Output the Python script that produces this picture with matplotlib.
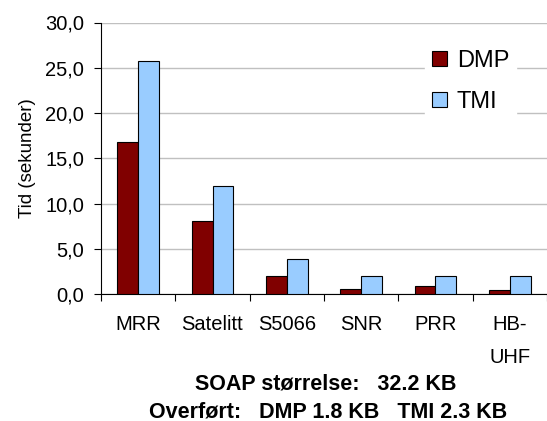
import matplotlib
matplotlib.use('Agg')
import matplotlib.pyplot as plt
import numpy as np

plt.rcParams['font.family'] = ['Liberation Sans', 'DejaVu Sans']

categories = ['MRR', 'Satelitt', 'S5066', 'SNR', 'PRR', 'HB-\nUHF']
dmp = [16.8, 8.1, 2.0, 0.6, 0.85, 0.4]
tmi = [25.8, 11.9, 3.9, 2.0, 2.0, 2.0]
yticks = [0, 5, 10, 15, 20, 25, 30]

fig = plt.figure(figsize=(5.47, 4.21), dpi=100)
ax = fig.add_axes([101/547, 1 - 294/421, 1 - 101/547, (294 - 22.5)/421])

x = np.arange(len(categories))
w = 0.28
ax.bar(x - w/2, dmp, w, color='#800000', edgecolor='black', linewidth=0.8, label='DMP', zorder=3)
ax.bar(x + w/2, tmi, w, color='#99ccff', edgecolor='black', linewidth=0.8, label='TMI', zorder=3)

ax.set_xlim(-0.5, len(categories) - 0.5)
ax.set_ylim(0, 30)
ax.set_yticks(yticks)
ax.set_yticklabels([('%.1f' % v).replace('.', ',') for v in yticks], fontsize=14.5)
ax.yaxis.grid(True, color='#c0c0c0', linewidth=1, zorder=0)
ax.set_axisbelow(True)

# category labels centred, ticks on the boundaries
ax.set_xticks(x)
ax.set_xticklabels(categories, fontsize=14.5, linespacing=1.95)
ax.tick_params(axis='x', length=0, pad=15)
ax.set_xticks(np.arange(-0.5, len(categories)), minor=True)
ax.tick_params(axis='x', which='minor', length=5, direction='out', width=0.8)
ax.tick_params(axis='y', length=5, direction='out', width=0.8, pad=7)

for s in ['top', 'right']:
    ax.spines[s].set_visible(False)
ax.spines['left'].set_linewidth(0.8)
ax.spines['bottom'].set_linewidth(0.8)

ax.set_ylabel('Tid (sekunder)', fontsize=13.5, labelpad=7)

leg = ax.legend(loc='upper left', bbox_to_anchor=(425/547, 1 - 43/421),
                bbox_transform=fig.transFigure, frameon=True, fontsize=17,
                handlelength=0.65, handleheight=0.6, handletextpad=0.4,
                labelspacing=0.8, borderpad=0.3, borderaxespad=0)
leg.get_frame().set_edgecolor('white')
leg.get_frame().set_facecolor('white')
leg.get_frame().set_alpha(1)
leg.get_frame().set_boxstyle('square', pad=0)

fig.text(326/547, 1 - 384/421, 'SOAP størrelse:   32.2 KB', ha='center', va='center',
         fontsize=15.5, fontweight='bold')
fig.text(328/547, 1 - 412/421, 'Overført:   DMP 1.8 KB   TMI 2.3 KB', ha='center', va='center',
         fontsize=15.5, fontweight='bold')

fig.savefig('out.png', dpi=100)
